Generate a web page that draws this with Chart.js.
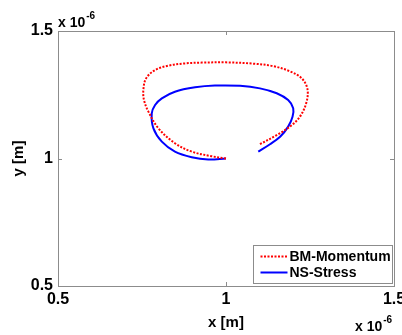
<!DOCTYPE html>
<html>
<head>
<meta charset="utf-8">
<script src="https://cdn.jsdelivr.net/npm/chart.js@4"></script>
<style>
  html, body { margin: 0; padding: 0; background: #fff; }
  #wrap { width: 402px; height: 335px; }
</style>
</head>
<body>
<div id="wrap"><canvas id="canvas-1"></canvas></div>
<script>
// trajectories, in units of 1e-6 m
let bmX = [1.000, 0.957, 0.898, 0.848, 0.799, 0.769, 0.756, 0.754, 0.762, 0.789, 0.828, 0.878, 0.928, 1.000, 1.081, 1.141, 1.190, 1.225, 1.242, 1.240, 1.220, 1.190, 1.151, 1.101]
let bmY = [1.000, 1.009, 1.027, 1.060, 1.118, 1.184, 1.229, 1.268, 1.314, 1.347, 1.364, 1.373, 1.376, 1.377, 1.372, 1.362, 1.342, 1.315, 1.275, 1.223, 1.164, 1.125, 1.092, 1.056]
let nsX = [1.000, 0.947, 0.898, 0.848, 0.809, 0.784, 0.779, 0.789, 0.809, 0.848, 0.908, 0.967, 1.042, 1.101, 1.151, 1.185, 1.200, 1.198, 1.185, 1.161, 1.131, 1.096]
let nsY = [1.000, 0.996, 1.005, 1.027, 1.066, 1.118, 1.177, 1.210, 1.236, 1.262, 1.279, 1.286, 1.285, 1.275, 1.256, 1.229, 1.197, 1.164, 1.125, 1.085, 1.056, 1.027]
let seriesNames = ['BM-Momentum', 'NS-Stress']
let tickValues = [0.5, 1, 1.5]
let tickLabels = ['0.5', '1', '1.5']
let exponentText = ['x 10', '-6']

const pts = (xs, ys) => xs.map((x, i) => ({ x: x, y: ys[i] }))
const FONT = 'Liberation Sans, Arial, Helvetica, sans-serif'
const tickText = v => tickLabels[tickValues.indexOf(v)]

// box, inward ticks, exponent labels and legend
const matlabLook = {
  id: 'matlabLook',
  afterDraw(chart) {
    const c = chart.ctx
    const a = chart.chartArea
    const xs = chart.scales.x, ys = chart.scales.y
    c.save()
    c.strokeStyle = '#8c8c8c'
    c.lineWidth = 1
    c.strokeRect(Math.round(a.left) + 0.5, Math.round(a.top) + 0.5, Math.round(a.right - a.left), Math.round(a.bottom - a.top))
    c.beginPath()
    tickValues.forEach(v => {
      const px = Math.round(xs.getPixelForValue(v)) + 0.5
      c.moveTo(px, a.bottom); c.lineTo(px, a.bottom - 4)
      c.moveTo(px, a.top); c.lineTo(px, a.top + 4)
      const py = Math.round(ys.getPixelForValue(v)) + 0.5
      c.moveTo(a.left, py); c.lineTo(a.left + 4, py)
      c.moveTo(a.right, py); c.lineTo(a.right - 4, py)
    })
    c.stroke()

    // x 10^-6 exponents
    c.fillStyle = '#000'
    c.textBaseline = 'alphabetic'
    c.textAlign = 'left'
    const exp = (x, y) => {
      c.font = 'bold 14px ' + FONT
      c.fillText(exponentText[0], x, y)
      const w = c.measureText(exponentText[0]).width
      c.font = 'bold 10px ' + FONT
      c.fillText(exponentText[1], x + w + 1, y - 8)
    }
    exp(a.left, 27)
    exp(355, 331)

    // legend
    const lx = 253.5, ly = 245.5, lw = 139, lh = 38
    c.fillStyle = '#fff'
    c.fillRect(lx, ly, lw, lh)
    c.strokeStyle = '#8c8c8c'
    c.strokeRect(lx, ly, lw, lh)
    chart.data.datasets.forEach((ds, i) => {
      const yy = ly + 11 + i * 16
      c.strokeStyle = ds.borderColor
      c.lineWidth = ds.borderWidth
      c.setLineDash(ds.borderDash || [])
      c.beginPath()
      c.moveTo(lx + 7, yy); c.lineTo(lx + 34, yy)
      c.stroke()
      c.setLineDash([])
      c.fillStyle = '#000'
      c.font = 'bold 14px ' + FONT
      c.textBaseline = 'middle'
      c.fillText(ds.label, lx + 36, yy + 1)
    })
    c.restore()
  }
}

const lineChart = new Chart(document.getElementById('canvas-1'), {
  type: 'scatter',
  data: {
    datasets: [{
      label: seriesNames[0],
      data: pts(bmX, bmY),
      showLine: true,
      borderColor: '#ff0000',
      borderWidth: 2,
      borderDash: [2, 1.5],
      pointRadius: 0,
      tension: 0.35
    }, {
      label: seriesNames[1],
      data: pts(nsX, nsY),
      showLine: true,
      borderColor: '#0000ff',
      borderWidth: 2,
      pointRadius: 0,
      tension: 0.35
    }]
  },
  options: {
    responsive: true,
    maintainAspectRatio: false,
    animation: false,
    layout: {
      autoPadding: false,
      padding: { top: 31, right: 8, left: 0, bottom: 0 }
    },
    plugins: {
      legend: { display: false },
      tooltip: { enabled: false }
    },
    scales: {
      x: {
        type: 'linear',
        min: 0.5,
        max: 1.5,
        afterFit: s => { s.height = 49; s.paddingLeft = 0; s.paddingRight = 0 },
        afterBuildTicks: s => { s.ticks = tickValues.map(v => ({ value: v })) },
        grid: { display: false, drawTicks: false },
        border: { display: false },
        ticks: { color: '#000', padding: 4, maxRotation: 0, callback: tickText, font: { size: 16, weight: 'bold', family: FONT } },
        title: { display: true, text: 'x [m]', color: '#000', padding: { top: 0, bottom: 3 }, font: { size: 15, weight: 'bold', family: FONT } }
      },
      y: {
        type: 'linear',
        min: 0.5,
        max: 1.5,
        afterFit: s => { s.width = 58; s.paddingTop = 0; s.paddingBottom = 0 },
        afterBuildTicks: s => { s.ticks = tickValues.map(v => ({ value: v })) },
        grid: { display: false, drawTicks: false },
        border: { display: false },
        ticks: { color: '#000', padding: 5, callback: tickText, font: { size: 16, weight: 'bold', family: FONT } },
        title: { display: true, text: 'y [m]', color: '#000', padding: { top: 10, bottom: 0 }, font: { size: 15, weight: 'bold', family: FONT } }
      }
    }
  },
  plugins: [matlabLook]
})
</script>
</body>
</html>
